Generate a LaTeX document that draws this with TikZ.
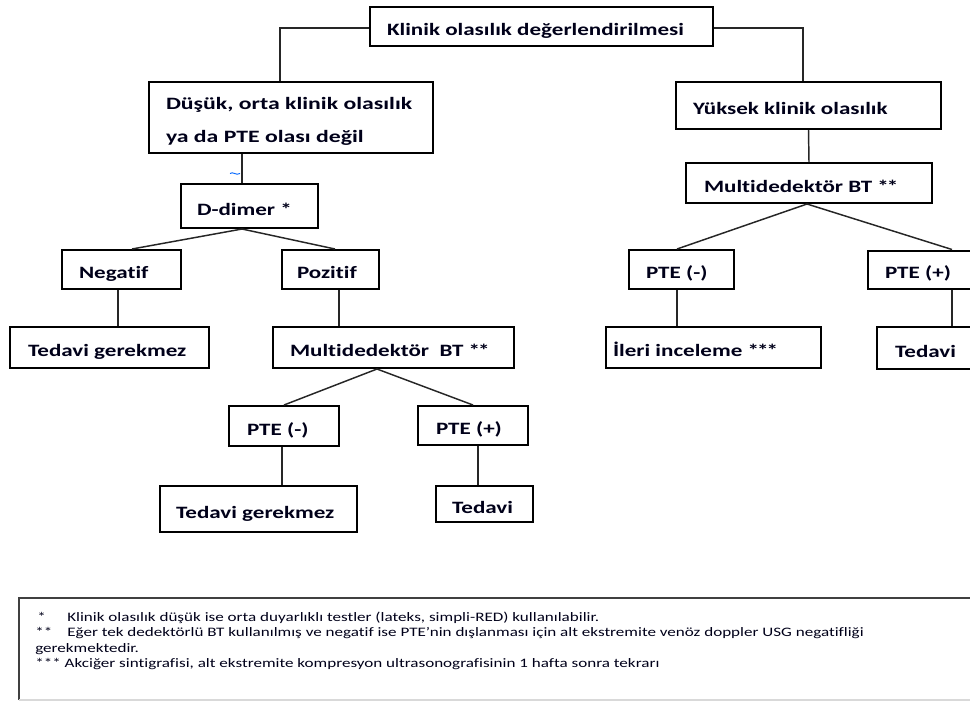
\documentclass[tikz,border=0pt]{standalone}
\usepackage{fontspec}
\usepackage{graphicx}
\setmainfont{Carlito}
\newfontfamily\bxf[FakeStretch=1.33,Ligatures=NoCommon]{Carlito}
\newfontfamily\fnf[FakeStretch=1.32,Ligatures=NoCommon]{Carlito}
\usetikzlibrary{calc}
\newdimen\pxu \pxu=0.75pt
\newcommand\bt[3]{\makebox[#1\pxu][l]{\hspace*{#2\pxu}#3}}
\newcommand\astr{*\kern-1.5pt}
\begin{document}
\begin{tikzpicture}[x=0.75pt,y=-0.75pt,
  box/.style={draw=black, line width=1.5pt, inner sep=0pt, anchor=center,
    text height=13.5pt, text depth=0pt,
    font=\bxf\bfseries\fontsize{13}{15}\selectfont, text=black!90!blue},
  conn/.style={draw=black!85, line width=1.1pt},
  fn/.style={anchor=base west, inner sep=0pt, font=\fnf\fontsize{9.7}{11}\selectfont, text=black!90!blue}]
\useasboundingbox (0,0) rectangle (970,701);
\clip (0,0) rectangle (970,701);
% boxes
\node[box, minimum height=39\pxu] (top) at (541.5,26.5) {\bt{343}{17}{Klinik olasılık değerlendirilmesi}};
\node[box, minimum height=71\pxu, text height=0pt, text depth=0pt] (low) at (291,117.5) {\bt{284}{17}{\raisebox{-6.25pt}[0pt][0pt]{\scalebox{1.03}[1]{\begin{tabular}{@{}l@{}}Düşük, orta klinik olasılık\\[9.75pt]ya da PTE olası değil\end{tabular}}}}};
\node[box, minimum height=47\pxu] (high) at (808.5,105.5) {\bt{265}{17}{Yüksek klinik olasılık}};
\node[box, minimum height=44\pxu] (ddimer) at (249.5,206) {\bt{137}{16}{D-dimer *}};
\node[box, minimum height=39\pxu] (neg) at (121.5,269.5) {\bt{119}{17}{Negatif}};
\node[box, minimum height=39\pxu] (poz) at (330.5,269.5) {\bt{97}{15}{Pozitif}};
\node[box, minimum height=41\pxu] (tgA) at (109.5,347.5) {\bt{199}{18}{Tedavi gerekmez}};
\node[box, minimum height=41\pxu] (multiL) at (393.5,347.5) {\bt{241}{17}{Multidedektör\ \ BT \astr*}};
\node[box, minimum height=40\pxu] (pteLm) at (284,426) {\bt{110}{18}{PTE (-)}};
\node[box, minimum height=39\pxu] (pteLp) at (473,425.5) {\bt{110}{18}{PTE (+)}};
\node[box, minimum height=46\pxu] (tgB) at (258.5,509) {\bt{197}{16}{Tedavi gerekmez}};
\node[box, minimum height=36\pxu] (tedL) at (484.5,504) {\bt{97}{16}{Tedavi}};
\node[box, minimum height=40\pxu] (multiR) at (809,183) {\bt{246}{18}{Multidedektör BT \astr*}};
\node[box, minimum height=39\pxu] (pteRm) at (681.5,269.5) {\bt{105}{17}{PTE (-)}};
\node[box, minimum height=38\pxu] (pteRp) at (952,269.5) {\bt{168}{17}{PTE (+)}};
\node[box, minimum height=41\pxu] (ileri) at (713.5,347.5) {\bt{215}{7}{İleri inceleme \astr\astr*}};
\node[box, minimum height=42\pxu] (tedR) at (952,348) {\bt{150}{18}{Tedavi}};
% connectors
\coordinate (jl) at (280,28);
\coordinate (jr) at (803,28);
\draw[conn] (top.west |- jl) -- (jl) -- (jl |- low.north);
\draw[conn] (top.east |- jr) -- (jr) -- (jr |- high.north);
\coordinate (vd) at (242,0);
\draw[conn] (vd |- low.south) -- (vd |- ddimer.north);
\draw[blue!60!cyan, line width=0.7pt] (230,173.5) .. controls (233,171) and (236,176) .. (240,173.5);
\draw[conn] (high.south) -- (multiR.north);
\draw[conn] (vd |- ddimer.south) -- ($(neg.north)+(10.5,0)$);
\draw[conn] (vd |- ddimer.south) -- ($(poz.north)+(4.5,0)$);
\coordinate (v1) at (118,0);
\draw[conn] (v1 |- neg.south) -- (v1 |- tgA.north);
\coordinate (v2) at (339,0);
\draw[conn] (v2 |- poz.south) -- (v2 |- multiL.north);
\coordinate (am) at (377,0);
\draw[conn] (am |- multiL.south) -- (pteLm.north);
\draw[conn] (am |- multiL.south) -- (pteLp.north);
\coordinate (v3) at (282,0);
\draw[conn] (v3 |- pteLm.south) -- (v3 |- tgB.north);
\coordinate (v4) at (478,0);
\draw[conn] (v4 |- pteLp.south) -- (v4 |- tedL.north);
\coordinate (ar) at (807,0);
\draw[conn] (ar |- multiR.south) -- ($(pteRm.north)+(-4.5,0)$);
\draw[conn] (ar |- multiR.south) -- (pteRp.north);
\coordinate (v5) at (677,0);
\draw[conn] (v5 |- pteRm.south) -- (v5 |- ileri.north);
\draw[conn] (pteRp.south) -- (pteRp.south |- tedR.north);
% footnote frame
\draw[black!75, line width=1.2pt] (19,700) -- (19,598) -- (975,598);
\draw[black!15, line width=0.8pt] (19,700) -- (975,700);
\node[fn] (f1) at (37,621) {\makebox[30\pxu][l]{*}Klinik olasılık düşük ise orta duyarlıklı testler (lateks, simpli-RED) kullanılabilir.};
\node[fn] (f2) at (35,636.5) {\makebox[32\pxu][l]{**}Eğer tek dedektörlü BT kullanılmış ve negatif ise PTE’nin dışlanması için alt ekstremite venöz doppler USG negatifliği};
\node[fn] (f3) at (35,652) {gerekmektedir.};
\node[fn] (f4) at (35,667) {*** Akciğer sintigrafisi, alt ekstremite kompresyon ultrasonografisinin 1 hafta sonra tekrarı};
\end{tikzpicture}
\end{document}
